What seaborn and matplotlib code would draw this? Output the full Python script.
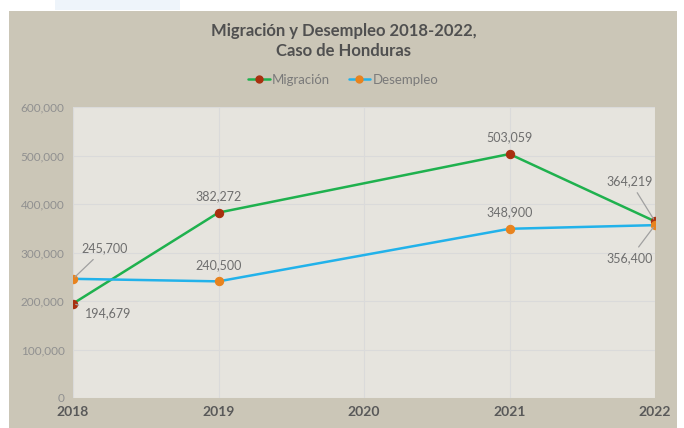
import numpy as np
import pandas as pd
import matplotlib
matplotlib.use('Agg')
import matplotlib.pyplot as plt
import seaborn as sns
from matplotlib.patches import Rectangle
from matplotlib.lines import Line2D

# data
years_mig = [2018, 2019, 2021, 2022]
migracion = [194679, 382272, 503059, 364219]
years_des = [2018, 2019, 2021, 2022]
desempleo = [245700, 240500, 348900, 356400]
xticks = [2018, 2019, 2020, 2021, 2022]

df = pd.concat([
    pd.DataFrame({'year': years_mig, 'value': migracion, 'serie': 'Migración'}),
    pd.DataFrame({'year': years_des, 'value': desempleo, 'serie': 'Desempleo'}),
])

sns.set_style('white')
plt.rcParams['font.family'] = ['Lato', 'DejaVu Sans']

fig = plt.figure(figsize=(6.84, 4.28), dpi=100, facecolor='white')
# tan panel + faint blue strip at top
fig.patches.append(Rectangle((9/684, 0), 668/684, 417/428, transform=fig.transFigure,
                             facecolor='#CBC6B7', edgecolor='none', zorder=-2))
fig.patches.append(Rectangle((55/684, 418/428), 125/684, 10/428, transform=fig.transFigure,
                             facecolor='#EEF4FA', edgecolor='none', zorder=-2))

ax = fig.add_axes([73/684, 30/428, 582/684, 291/428])
ax.set_facecolor('#E6E4DE')

line_cols = {'Migración': '#1FB14E', 'Desempleo': '#22B2EA'}
mk_cols = {'Migración': '#A8300F', 'Desempleo': '#E8831E'}

for s in ['Migración', 'Desempleo']:
    d = df[df.serie == s]
    sns.lineplot(data=d, x='year', y='value', ax=ax, color=line_cols[s], lw=1.8,
                 marker='o', markersize=6, markerfacecolor=mk_cols[s],
                 markeredgecolor=mk_cols[s], zorder=3)

ax.set_xlim(2018, 2022)
ax.set_ylim(0, 600000)
ax.set_xticks(xticks)
ax.set_xticklabels([str(x) for x in xticks], fontweight='bold', color='#595959', fontsize=10)
ax.set_yticks(range(0, 600001, 100000))
ax.set_yticklabels(['{:,}'.format(v) for v in range(0, 600001, 100000)], color='#909090', fontsize=8.5)
ax.tick_params(length=0, pad=6)
ax.grid(True, color='#DADADA', lw=0.8)
ax.set_axisbelow(True)
for sp in ax.spines.values():
    sp.set_visible(False)
ax.set_xlabel('')
ax.set_ylabel('')
if ax.get_legend():
    ax.get_legend().remove()

lab_kw = dict(color='#6E6E6E', fontsize=9, ha='center', va='center')
arrow = dict(arrowstyle='-', color='#A0A0A0', lw=0.9)

def fmt(v):
    return '{:,}'.format(v)

# labels above points
for x, v in [(years_mig[1], migracion[1]), (years_mig[2], migracion[2])]:
    ax.annotate(fmt(v), (x, v), xytext=(0, 12), textcoords='offset points', **lab_kw)
for x, v in [(years_des[1], desempleo[1]), (years_des[2], desempleo[2])]:
    ax.annotate(fmt(v), (x, v), xytext=(0, 12), textcoords='offset points', **lab_kw)

# leader-line labels
ax.annotate(fmt(desempleo[0]), (years_des[0], desempleo[0]), xytext=(23, 22),
            textcoords='offset points', arrowprops=arrow, **lab_kw)
ax.annotate(fmt(migracion[0]), (years_mig[0], migracion[0]), xytext=(25, -7),
            textcoords='offset points', arrowprops=arrow, **lab_kw)
ax.annotate(fmt(migracion[3]), (years_mig[3], migracion[3]), xytext=(-18, 29),
            textcoords='offset points', arrowprops=arrow, **lab_kw)
ax.annotate(fmt(desempleo[3]), (years_des[3], desempleo[3]), xytext=(-18, -24),
            textcoords='offset points', arrowprops=arrow, **lab_kw)

fig.text(0.502, 1 - 31/428, 'Migración y Desempleo 2018-2022,', ha='center', va='center',
         fontsize=12, fontweight='bold', color='#505050')
fig.text(0.502, 1 - 51/428, 'Caso de Honduras', ha='center', va='center',
         fontsize=12, fontweight='bold', color='#505050')

handles = [Line2D([], [], color=line_cols[s], lw=1.8, marker='o', markersize=5,
                  markerfacecolor=mk_cols[s], markeredgecolor=mk_cols[s])
           for s in ['Migración', 'Desempleo']]
leg = fig.legend(handles, ['Migración', 'Desempleo'], loc='center', ncol=2,
                 bbox_to_anchor=(0.502, 1 - 80/428), frameon=False, fontsize=9.5,
                 handlelength=1.6, handletextpad=0.2, columnspacing=1.4)
for t in leg.get_texts():
    t.set_color('#7A7A7A')

fig.savefig('out.png', dpi=100, facecolor='white')
